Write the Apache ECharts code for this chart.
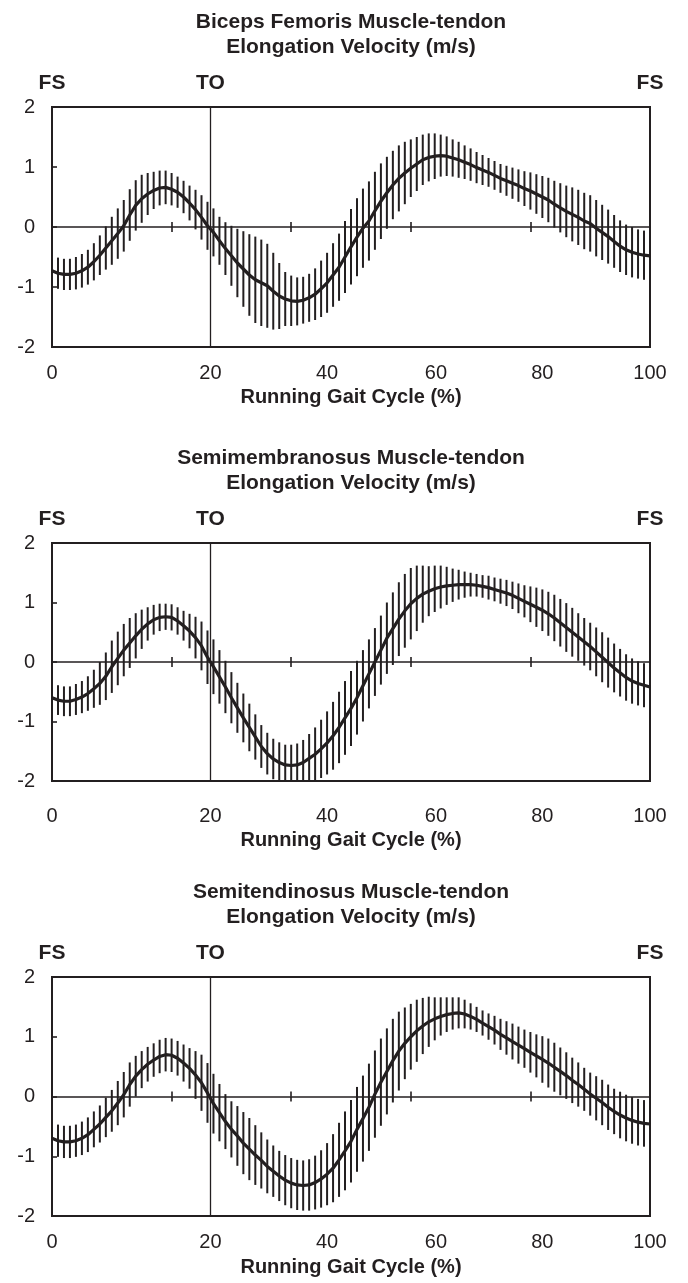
<!DOCTYPE html>
<html>
<head>
<meta charset="utf-8">
<script src="https://cdn.jsdelivr.net/npm/echarts@6/dist/echarts.min.js"></script>
<style>
html,body{margin:0;padding:0;background:#fff;}
#c{width:688px;height:1283px;}
</style>
</head>
<body>
<div id="c"></div>
<script>
// ---- data ----
const titles = [
  'Biceps Femoris Muscle-tendon\nElongation Velocity (m/s)',
  'Semimembranosus Muscle-tendon\nElongation Velocity (m/s)',
  'Semitendinosus Muscle-tendon\nElongation Velocity (m/s)'
];
const xAxisName = 'Running Gait Cycle (%)';
const yTicks = [-2, -1, 0, 1, 2];
const xLabelPos = [0, 26.5, 46, 64.2, 82, 100];
const xLabelText = ['0', '20', '40', '60', '80', '100'];
const zeroTickPos = [20, 40, 60, 80];
const eventPos = [0, 26.5, 100];
const eventText = ['FS', 'TO', 'FS'];
const toeOff = 26.5;

// mean elongation velocity (m/s) at 0..100 % of gait cycle
const meanBF = [-0.73,-0.77,-0.79,-0.79,-0.77,-0.73,-0.67,-0.58,-0.47,-0.35,-0.23,-0.11,0.02,0.2,0.36,0.47,0.55,0.61,0.65,0.66,0.63,0.58,0.5,0.4,0.29,0.16,0.02,-0.09,-0.23,-0.36,-0.48,-0.6,-0.7,-0.8,-0.88,-0.93,-0.98,-1.07,-1.15,-1.2,-1.23,-1.24,-1.22,-1.18,-1.12,-1.03,-0.93,-0.8,-0.67,-0.5,-0.33,-0.17,-0.02,0.1,0.27,0.43,0.57,0.7,0.81,0.9,0.98,1.05,1.12,1.16,1.18,1.19,1.18,1.15,1.12,1.08,1.04,0.99,0.95,0.91,0.86,0.81,0.77,0.73,0.69,0.64,0.6,0.55,0.5,0.45,0.38,0.32,0.26,0.21,0.16,0.1,0.06,-0.02,-0.09,-0.16,-0.24,-0.32,-0.38,-0.42,-0.45,-0.47,-0.48];
const sdBF = [0.25,0.26,0.26,0.26,0.27,0.28,0.29,0.31,0.33,0.36,0.4,0.42,0.43,0.43,0.42,0.4,0.35,0.31,0.29,0.28,0.27,0.26,0.27,0.29,0.33,0.37,0.4,0.4,0.4,0.44,0.5,0.57,0.63,0.68,0.72,0.72,0.7,0.64,0.55,0.45,0.42,0.4,0.39,0.4,0.43,0.47,0.5,0.53,0.56,0.6,0.63,0.65,0.66,0.66,0.65,0.63,0.6,0.57,0.55,0.52,0.48,0.45,0.42,0.4,0.38,0.35,0.33,0.31,0.3,0.28,0.27,0.26,0.25,0.24,0.24,0.24,0.25,0.26,0.27,0.29,0.31,0.33,0.35,0.37,0.39,0.41,0.43,0.45,0.46,0.47,0.47,0.47,0.46,0.45,0.44,0.43,0.42,0.42,0.41,0.41,0.4];

const meanSM = [-0.6,-0.64,-0.66,-0.66,-0.63,-0.59,-0.53,-0.45,-0.36,-0.24,-0.08,0.06,0.2,0.32,0.44,0.55,0.64,0.71,0.75,0.76,0.75,0.69,0.61,0.52,0.41,0.27,0.08,-0.08,-0.25,-0.42,-0.6,-0.77,-0.94,-1.1,-1.26,-1.42,-1.54,-1.63,-1.69,-1.73,-1.74,-1.73,-1.69,-1.62,-1.55,-1.46,-1.36,-1.24,-1.1,-0.94,-0.78,-0.6,-0.4,-0.2,0.0,0.2,0.4,0.56,0.72,0.86,0.98,1.07,1.14,1.19,1.23,1.26,1.28,1.29,1.3,1.3,1.3,1.29,1.27,1.25,1.22,1.19,1.16,1.12,1.07,1.02,0.97,0.92,0.87,0.81,0.74,0.66,0.58,0.5,0.42,0.34,0.26,0.17,0.08,-0.01,-0.1,-0.18,-0.26,-0.32,-0.36,-0.39,-0.42];
const sdSM = [0.25,0.25,0.25,0.25,0.26,0.27,0.29,0.32,0.36,0.4,0.44,0.45,0.44,0.42,0.38,0.33,0.28,0.25,0.23,0.22,0.22,0.23,0.25,0.29,0.35,0.41,0.45,0.46,0.45,0.44,0.43,0.42,0.41,0.4,0.38,0.36,0.35,0.34,0.34,0.34,0.35,0.36,0.38,0.41,0.45,0.49,0.53,0.57,0.6,0.62,0.63,0.62,0.6,0.58,0.57,0.58,0.6,0.61,0.62,0.62,0.6,0.55,0.48,0.42,0.39,0.36,0.32,0.28,0.25,0.22,0.2,0.19,0.19,0.2,0.2,0.21,0.22,0.23,0.25,0.27,0.3,0.33,0.35,0.37,0.39,0.4,0.41,0.41,0.4,0.4,0.4,0.41,0.42,0.42,0.41,0.4,0.39,0.38,0.37,0.37,0.37];

const meanST = [-0.7,-0.74,-0.76,-0.76,-0.74,-0.7,-0.64,-0.55,-0.46,-0.35,-0.24,-0.11,0.03,0.2,0.34,0.45,0.54,0.61,0.67,0.7,0.69,0.64,0.56,0.47,0.36,0.23,0.06,-0.12,-0.27,-0.42,-0.55,-0.66,-0.78,-0.88,-0.98,-1.07,-1.17,-1.25,-1.33,-1.4,-1.45,-1.48,-1.49,-1.48,-1.44,-1.38,-1.3,-1.2,-1.06,-0.91,-0.75,-0.55,-0.37,-0.18,0.04,0.24,0.42,0.6,0.76,0.89,1.0,1.1,1.18,1.25,1.3,1.34,1.37,1.39,1.4,1.38,1.34,1.29,1.23,1.17,1.11,1.04,0.98,0.92,0.86,0.8,0.74,0.68,0.62,0.56,0.49,0.42,0.35,0.27,0.2,0.12,0.04,-0.03,-0.1,-0.18,-0.25,-0.31,-0.36,-0.4,-0.43,-0.45,-0.46];
const sdST = [0.27,0.27,0.27,0.27,0.27,0.28,0.29,0.3,0.31,0.33,0.35,0.37,0.38,0.37,0.34,0.31,0.29,0.28,0.28,0.28,0.28,0.29,0.31,0.34,0.4,0.47,0.5,0.5,0.48,0.46,0.47,0.5,0.52,0.52,0.5,0.47,0.45,0.43,0.42,0.42,0.42,0.42,0.42,0.43,0.45,0.48,0.52,0.57,0.62,0.66,0.69,0.71,0.72,0.73,0.73,0.73,0.72,0.7,0.66,0.6,0.55,0.52,0.47,0.42,0.36,0.32,0.29,0.27,0.26,0.24,0.22,0.21,0.21,0.22,0.24,0.26,0.28,0.3,0.31,0.32,0.34,0.36,0.39,0.41,0.41,0.4,0.39,0.38,0.37,0.36,0.36,0.37,0.38,0.38,0.38,0.39,0.39,0.39,0.39,0.39,0.38];

const means = [meanBF, meanSM, meanST];
const sds = [sdBF, sdSM, sdST];

// ---- layout ----
const FONT = '"Liberation Sans", Arial, sans-serif';
const INK = '#231f20';
const grids = [
  {left: 52, width: 598, top: 107, height: 240, labMargin: 16, nameGap: 40},
  {left: 52, width: 598, top: 543, height: 238, labMargin: 25, nameGap: 49},
  {left: 52, width: 598, top: 977, height: 239, labMargin: 16, nameGap: 41}
];

const option = {
  backgroundColor: '#fff',
  animation: false,
  title: [], grid: [], xAxis: [], yAxis: [], series: []
};

grids.forEach((g, p) => {
  option.title.push({
    text: titles[p],
    left: g.left + g.width / 2, top: g.top - 97, textAlign: 'center', padding: 0,
    textStyle: {fontFamily: FONT, fontSize: 21, fontWeight: 'bold', color: INK, lineHeight: 25}
  });
  option.grid.push({
    left: g.left, top: g.top, width: g.width, height: g.height,
    show: true, borderColor: INK, borderWidth: 2, backgroundColor: 'transparent'
  });
  const base = {gridIndex: p, type: 'value', min: 0, max: 100, splitLine: {show: false}};
  // bottom labels
  option.xAxis.push(Object.assign({}, base, {
    position: 'bottom',
    axisLine: {show: false, onZero: false},
    axisTick: {show: false},
    axisLabel: {
      customValues: xLabelPos, margin: g.labMargin,
      fontFamily: FONT, fontSize: 20, color: INK,
      formatter: v => { const i = xLabelPos.indexOf(v); return i >= 0 ? xLabelText[i] : ''; }
    },
    name: xAxisName, nameLocation: 'middle', nameGap: g.nameGap,
    nameTextStyle: {fontFamily: FONT, fontSize: 20, fontWeight: 'bold', color: INK}
  }));
  // zero line with downward ticks
  option.xAxis.push(Object.assign({}, base, {
    position: 'bottom',
    axisLine: {show: true, onZero: true, onZeroAxisIndex: p, lineStyle: {color: INK, width: 1.6}},
    axisTick: {show: true, customValues: zeroTickPos, length: 5, lineStyle: {color: INK, width: 1.6}},
    axisLabel: {show: false}
  }));
  // zero line upward ticks
  option.xAxis.push(Object.assign({}, base, {
    position: 'top',
    axisLine: {show: false, onZero: true, onZeroAxisIndex: p},
    axisTick: {show: true, customValues: zeroTickPos, length: 5, lineStyle: {color: INK, width: 1.6}},
    axisLabel: {show: false}
  }));
  // event labels on top
  option.xAxis.push(Object.assign({}, base, {
    position: 'top',
    axisLine: {show: false, onZero: false},
    axisTick: {show: false},
    axisLabel: {
      customValues: eventPos, margin: 13,
      fontFamily: FONT, fontSize: 21, fontWeight: 'bold', color: INK,
      formatter: v => { const i = eventPos.indexOf(v); return i >= 0 ? eventText[i] : ''; }
    }
  }));
  option.yAxis.push({
    gridIndex: p, type: 'value', min: -2, max: 2, interval: 1,
    axisLine: {show: false, onZero: false},
    axisTick: {show: true, inside: true, length: 5, lineStyle: {color: INK, width: 1.6}},
    axisLabel: {margin: 17, fontFamily: FONT, fontSize: 20, color: INK},
    splitLine: {show: false}
  });

  const m = means[p], s = sds[p];
  const barData = m.map((v, i) => [i, +(v - s[i]).toFixed(3), +(v + s[i]).toFixed(3)]);
  option.series.push({
    type: 'custom', xAxisIndex: p * 4, yAxisIndex: p, clip: true,
    encode: {x: 0, y: [1, 2]},
    data: barData, silent: true, z: 2,
    renderItem: (params, api) => {
      const a = api.coord([api.value(0), api.value(1)]);
      const b = api.coord([api.value(0), api.value(2)]);
      return {type: 'line', shape: {x1: a[0], y1: a[1], x2: b[0], y2: b[1]},
        style: {stroke: INK, lineWidth: 2}};
    }
  });
  option.series.push({
    type: 'line', xAxisIndex: p * 4, yAxisIndex: p,
    data: m.map((v, i) => [i, v]),
    showSymbol: false, symbol: 'none', z: 3, silent: true,
    lineStyle: {color: INK, width: 3.2},
    markLine: {
      silent: true, symbol: 'none', label: {show: false},
      lineStyle: {color: INK, width: 1.3, type: 'solid'},
      data: [{xAxis: toeOff}]
    }
  });
});

const chart = echarts.init(document.getElementById('c'), null, {renderer: 'canvas', width: 688, height: 1283});
chart.setOption(option);
</script>
</body>
</html>
